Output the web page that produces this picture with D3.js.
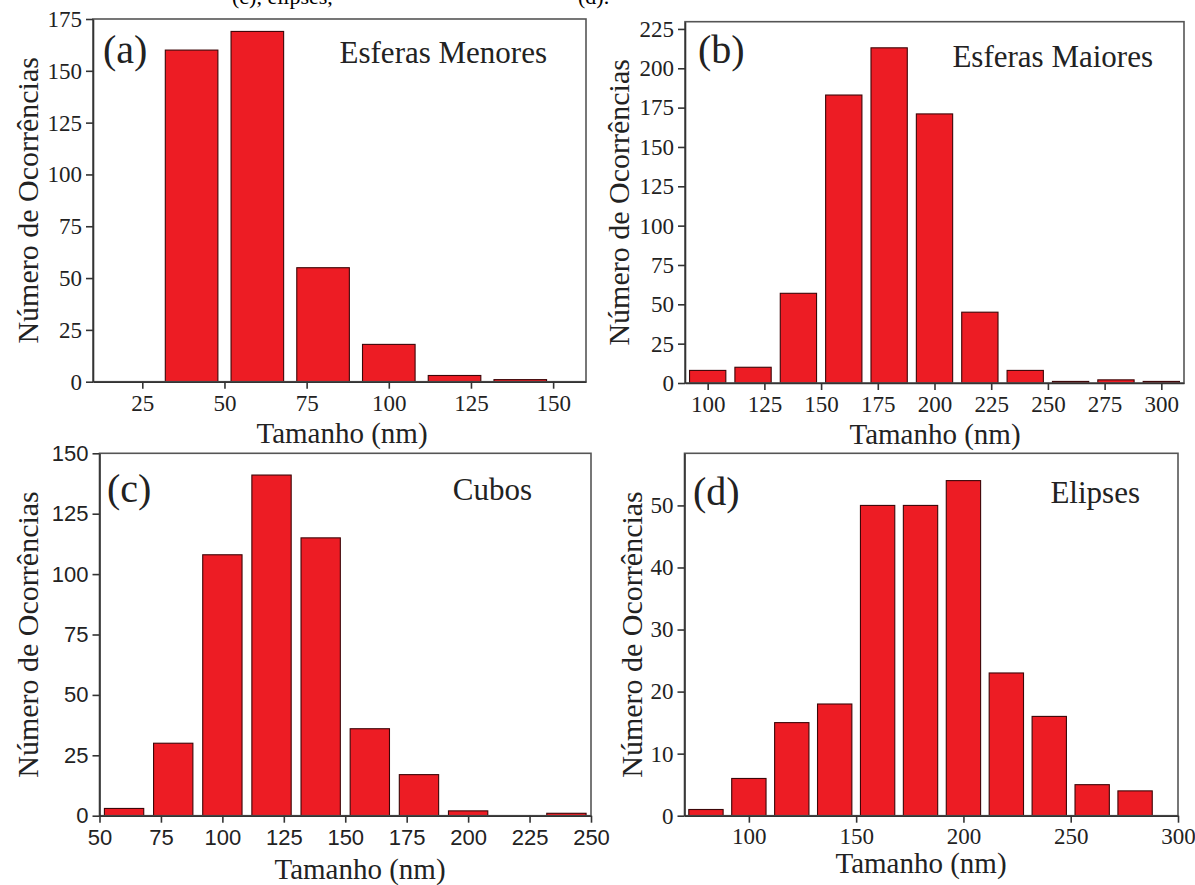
<!DOCTYPE html>
<html>
<head>
<meta charset="utf-8">
<script src="https://cdn.jsdelivr.net/npm/d3@7"></script>
<style>
  body { margin: 0; background: #fff; }
  svg { display: block; }
  .serif { font-family: "Liberation Serif", "Times New Roman", serif; }
  .sans { font-family: "Liberation Sans", Arial, sans-serif; }
</style>
</head>
<body>
<div id="chart"></div>
<script>

// (a) esferas menores
let sizesA = [40, 60, 80, 100, 120, 140];
let countsA = [160, 169, 55, 18, 3, 1];
let xTicksA = [25, 50, 75, 100, 125, 150];
let yTicksA = [0, 25, 50, 75, 100, 125, 150, 175];

// (b) esferas maiores
let sizesB = [100, 120, 140, 160, 180, 200, 220, 240, 260, 280, 300];
let countsB = [8, 10, 57, 183, 213, 171, 45, 8, 1, 2, 1];
let xTicksB = [100, 125, 150, 175, 200, 225, 250, 275, 300];
let yTicksB = [0, 25, 50, 75, 100, 125, 150, 175, 200, 225];

// (c) cubos
let sizesC = [60, 80, 100, 120, 140, 160, 180, 200, 220, 240];
let countsC = [3, 30, 108, 141, 115, 36, 17, 2, 0, 1];
let xTicksC = [50, 75, 100, 125, 150, 175, 200, 225, 250];
let yTicksC = [0, 25, 50, 75, 100, 125, 150];

// (d) elipses
let sizesD = [80, 100, 120, 140, 160, 180, 200, 220, 240, 260, 280];
let countsD = [1, 6, 15, 18, 50, 50, 54, 23, 16, 5, 4];
let xTicksD = [100, 150, 200, 250, 300];
let yTicksD = [0, 10, 20, 30, 40, 50];

let binWidth = 20;
let barWidth = 16;

const width = 1195;
const height = 885;

let svg = d3.select("#chart")
    .append("svg")
        .attr("width", width)
        .attr("height", height)
        .attr("viewBox", [0, 0, width, height]);

// caption line cut off at the very top (only its lower part shows)
svg.append("text")
    .attr("class", "serif")
    .attr("x", 232).attr("y", 4)
    .attr("font-size", "22px")
    .text("(c), elipses,");
svg.append("text")
    .attr("class", "serif")
    .attr("x", 578).attr("y", 4)
    .attr("font-size", "22px")
    .text("(d).");

let panels = [
    { sizes: sizesA, counts: countsA, xTicks: xTicksA, yTicks: yTicksA,
      xDom: [10, 160], yDom: [0, 175],
      left: 93, right: 586, top: 19, bottom: 381.7,
      letter: "(a)", letterX: 103, letterY: 63,
      title: "Esferas Menores", titleX: 547, titleY: 63,
      yLabX: 38, xLabX: 342, xLabY: 443, tickFont: "serif", tickY: 411 },
    { sizes: sizesB, counts: countsB, xTicks: xTicksB, yTicks: yTicksB,
      xDom: [90, 310], yDom: [0, 229.6],
      left: 685, right: 1184, top: 21.7, bottom: 383,
      letter: "(b)", letterX: 698, letterY: 63,
      title: "Esferas Maiores", titleX: 1153, titleY: 67,
      yLabX: 629, xLabX: 935, xLabY: 444, tickFont: "serif", tickY: 412 },
    { sizes: sizesC, counts: countsC, xTicks: xTicksC, yTicks: yTicksC,
      xDom: [50, 250], yDom: [0, 150],
      left: 99.5, right: 591, top: 453.3, bottom: 815.7,
      letter: "(c)", letterX: 107, letterY: 502,
      title: "Cubos", titleX: 532, titleY: 500,
      yLabX: 38, xLabX: 360, xLabY: 879, tickFont: "sans", tickY: 845 },
    { sizes: sizesD, counts: countsD, xTicks: xTicksD, yTicks: yTicksD,
      xDom: [70, 300], yDom: [0, 58.4],
      left: 684.5, right: 1178, top: 453.3, bottom: 815.7,
      letter: "(d)", letterX: 693, letterY: 505,
      title: "Elipses", titleX: 1140, titleY: 503,
      yLabX: 642, xLabX: 921, xLabY: 873, tickFont: "serif", tickY: 844 }
];

panels.forEach((p) => {
    let xScale = d3.scaleLinear()
                    .domain(p.xDom)
                    .range([p.left, p.right]);

    let yScale = d3.scaleLinear()
                    .domain(p.yDom)
                    .range([p.bottom, p.top]);

    let g = svg.append("g");

    // bars (empty bins are skipped)
    g.selectAll("rect.bar")
        .data(p.sizes.map((s, i) => ({ size: s, count: p.counts[i] })).filter(d => d.count > 0))
        .enter()
        .append("rect")
            .attr("class", "bar")
            .attr("x", d => xScale(d.size - barWidth / 2))
            .attr("width", d => xScale(d.size + barWidth / 2) - xScale(d.size - barWidth / 2))
            .attr("y", d => yScale(d.count))
            .attr("height", d => yScale(0) - yScale(d.count))
            .attr("fill", "#ed1c24")
            .attr("stroke", "#3d0608")
            .attr("stroke-width", 1.1);

    // frame
    g.append("rect")
        .attr("x", p.left).attr("y", p.top)
        .attr("width", p.right - p.left).attr("height", p.bottom - p.top)
        .attr("fill", "none")
        .attr("stroke", "#555")
        .attr("stroke-width", 1.6);

    let fsz = p.tickFont == "sans" ? "22px" : "23px";

    let xAxis = g.append("g")
        .attr("transform", `translate(0, ${p.bottom})`)
        .call(d3.axisBottom(xScale).tickValues(p.xTicks).tickSize(7).tickSizeOuter(0).tickPadding(3));

    let yAxis = g.append("g")
        .attr("transform", `translate(${p.left}, 0)`)
        .call(d3.axisLeft(yScale).tickValues(p.yTicks).tickSize(7).tickSizeOuter(0).tickPadding(4));

    [xAxis, yAxis].forEach((ax) => {
        ax.select(".domain").attr("stroke", "#333").attr("stroke-width", 1.6);
        ax.selectAll(".tick line").attr("stroke", "#333").attr("stroke-width", 1.6);
        ax.selectAll(".tick text")
            .attr("class", p.tickFont)
            .attr("fill", "#222")
            .attr("font-size", fsz);
    });
    xAxis.selectAll(".tick text")
        .attr("dy", null)
        .attr("y", p.tickY - p.bottom);

    // panel letter and title
    g.append("text")
        .attr("class", "serif")
        .attr("x", p.letterX).attr("y", p.letterY)
        .attr("font-size", "40px")
        .attr("fill", "#222")
        .text(p.letter);

    g.append("text")
        .attr("class", "serif")
        .attr("x", p.titleX).attr("y", p.titleY)
        .attr("text-anchor", "end")
        .attr("font-size", "31px")
        .attr("fill", "#222")
        .text(p.title);

    // axis titles
    g.append("text")
        .attr("class", "serif")
        .attr("transform", `translate(${p.yLabX}, ${(p.top + p.bottom) / 2}) rotate(-90)`)
        .attr("text-anchor", "middle")
        .attr("font-size", "30px")
        .attr("fill", "#222")
        .text("Número de Ocorrências");

    g.append("text")
        .attr("class", "serif")
        .attr("x", p.xLabX).attr("y", p.xLabY)
        .attr("text-anchor", "middle")
        .attr("font-size", "29px")
        .attr("fill", "#222")
        .text("Tamanho (nm)");
});

</script>
</body>
</html>
